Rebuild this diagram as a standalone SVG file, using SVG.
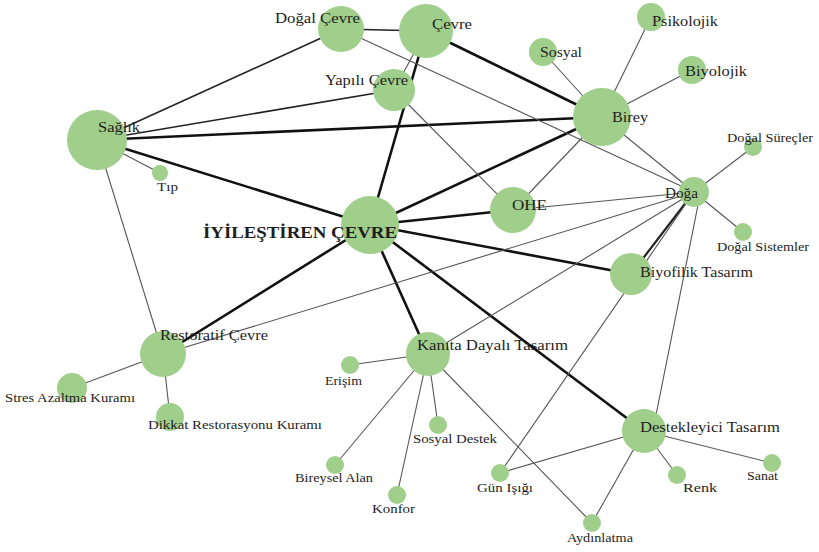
<svg xmlns="http://www.w3.org/2000/svg" width="819" height="552" viewBox="0 0 819 552">
<style>
.bg{fill:#ffffff}
.n{fill:#a0cf8c}
.t{font-family:"Liberation Serif","Times New Roman",serif;fill:#1e1e1e;font-size:14px}
.s{font-size:12px}
.b{font-weight:bold;font-size:17px}
.k{stroke:#111;stroke-width:2.6;fill:none}
.m{stroke:#222;stroke-width:1.6;fill:none}
.l{stroke:#555;stroke-width:1.1;fill:none}
</style>
<rect class="bg" x="0" y="0" width="819" height="552"/>
<g id="edges">
<line class="k" x1="97" y1="140" x2="370" y2="225"/>
<line class="k" x1="97" y1="140" x2="602" y2="117"/>
<line class="k" x1="426" y1="31" x2="370" y2="225"/>
<line class="k" x1="426" y1="31" x2="602" y2="117"/>
<line class="k" x1="602" y1="117" x2="370" y2="225"/>
<line class="k" x1="370" y1="225" x2="513" y2="210"/>
<line class="k" x1="370" y1="225" x2="631" y2="274"/>
<line class="k" x1="370" y1="225" x2="428" y2="354"/>
<line class="k" x1="370" y1="225" x2="644" y2="431"/>
<line class="k" x1="370" y1="225" x2="163" y2="354"/>
<line class="m" x1="631" y1="274" x2="694" y2="192" style="stroke-width:2.2"/>
<line class="m" x1="97" y1="140" x2="341" y2="29"/>
<line class="m" x1="97" y1="140" x2="394" y2="90"/>
<line class="m" x1="341" y1="29" x2="426" y2="31"/>
<line class="l" x1="394" y1="90" x2="426" y2="31"/>
<line class="l" x1="341" y1="29" x2="694" y2="192"/>
<line class="l" x1="394" y1="90" x2="513" y2="210"/>
<line class="l" x1="602" y1="117" x2="513" y2="210"/>
<line class="l" x1="602" y1="117" x2="694" y2="192"/>
<line class="l" x1="602" y1="117" x2="543" y2="52"/>
<line class="l" x1="602" y1="117" x2="651" y2="17"/>
<line class="l" x1="602" y1="117" x2="692" y2="70"/>
<line class="l" x1="513" y1="210" x2="694" y2="192"/>
<line class="l" x1="694" y1="192" x2="753" y2="147"/>
<line class="l" x1="694" y1="192" x2="743" y2="232"/>
<line class="l" x1="694" y1="192" x2="163" y2="354"/>
<line class="l" x1="694" y1="192" x2="428" y2="354"/>
<line class="l" x1="694" y1="192" x2="500" y2="473"/>
<line class="l" x1="700" y1="195" x2="655" y2="420"/>
<line class="l" x1="97" y1="140" x2="163" y2="354"/>
<line class="l" x1="97" y1="140" x2="160" y2="173"/>
<line class="l" x1="163" y1="354" x2="72" y2="388"/>
<line class="l" x1="163" y1="354" x2="170" y2="417"/>
<line class="l" x1="428" y1="354" x2="350" y2="365"/>
<line class="l" x1="428" y1="354" x2="438" y2="425"/>
<line class="l" x1="428" y1="354" x2="335" y2="465"/>
<line class="l" x1="428" y1="354" x2="397" y2="495"/>
<line class="l" x1="428" y1="354" x2="592" y2="523"/>
<line class="l" x1="644" y1="431" x2="500" y2="473"/>
<line class="l" x1="644" y1="431" x2="592" y2="523"/>
<line class="l" x1="644" y1="431" x2="677" y2="475"/>
<line class="l" x1="644" y1="431" x2="772" y2="463"/>
</g>
<g id="dogal-cevre"><circle class="n" cx="341" cy="29" r="23"/><text class="t" x="275" y="23" textLength="85" lengthAdjust="spacingAndGlyphs">Doğal Çevre</text></g>
<g id="cevre"><circle class="n" cx="426" cy="31" r="27"/><text class="t" x="432" y="29" textLength="40" lengthAdjust="spacingAndGlyphs">Çevre</text></g>
<g id="yapili-cevre"><circle class="n" cx="394" cy="90" r="21"/><text class="t" x="325" y="85" textLength="83" lengthAdjust="spacingAndGlyphs">Yapılı Çevre</text></g>
<g id="saglik"><circle class="n" cx="97" cy="140" r="30"/><text class="t" x="98" y="132" textLength="42" lengthAdjust="spacingAndGlyphs">Sağlık</text></g>
<g id="tip"><circle class="n" cx="160" cy="173" r="8"/><text class="t s" x="157" y="191" textLength="21" lengthAdjust="spacingAndGlyphs">Tıp</text></g>
<g id="iyilestiren-cevre"><circle class="n" cx="370" cy="225" r="29"/><text class="t b" x="203" y="238" textLength="194" lengthAdjust="spacingAndGlyphs">İYİLEŞTİREN ÇEVRE</text></g>
<g id="sosyal"><circle class="n" cx="543" cy="52" r="14"/><text class="t" x="540" y="57" textLength="42" lengthAdjust="spacingAndGlyphs">Sosyal</text></g>
<g id="psikolojik"><circle class="n" cx="651" cy="17" r="14"/><text class="t" x="652" y="26" textLength="66" lengthAdjust="spacingAndGlyphs">Psikolojik</text></g>
<g id="biyolojik"><circle class="n" cx="692" cy="70" r="14"/><text class="t" x="685" y="76" textLength="62" lengthAdjust="spacingAndGlyphs">Biyolojik</text></g>
<g id="birey"><circle class="n" cx="602" cy="117" r="29"/><text class="t" x="612" y="122" textLength="36" lengthAdjust="spacingAndGlyphs">Birey</text></g>
<g id="ohe"><circle class="n" cx="513" cy="210" r="23"/><text class="t" x="512" y="210" textLength="35" lengthAdjust="spacingAndGlyphs">OHE</text></g>
<g id="doga"><circle class="n" cx="694" cy="192" r="15"/><text class="t" x="665" y="198" textLength="33" lengthAdjust="spacingAndGlyphs">Doğa</text></g>
<g id="dogal-surecler"><circle class="n" cx="753" cy="147" r="9"/><text class="t s" x="727" y="142" textLength="86" lengthAdjust="spacingAndGlyphs">Doğal Süreçler</text></g>
<g id="dogal-sistemler"><circle class="n" cx="743" cy="232" r="9"/><text class="t s" x="717" y="251" textLength="92" lengthAdjust="spacingAndGlyphs">Doğal Sistemler</text></g>
<g id="biyofilik-tasarim"><circle class="n" cx="631" cy="274" r="21"/><text class="t" x="640" y="277" textLength="113" lengthAdjust="spacingAndGlyphs">Biyofilik Tasarım</text></g>
<g id="restoratif-cevre"><circle class="n" cx="163" cy="354" r="23"/><text class="t" x="160" y="340" textLength="108" lengthAdjust="spacingAndGlyphs">Restoratif Çevre</text></g>
<g id="stres-azaltma-kurami"><circle class="n" cx="72" cy="388" r="15"/><text class="t s" x="5" y="402" textLength="130" lengthAdjust="spacingAndGlyphs">Stres Azaltma  Kuramı</text></g>
<g id="dikkat-restorasyonu-kurami"><circle class="n" cx="170" cy="417" r="14"/><text class="t s" x="148" y="429" textLength="174" lengthAdjust="spacingAndGlyphs">Dikkat  Restorasyonu Kuramı</text></g>
<g id="kanita-dayali-tasarim"><circle class="n" cx="428" cy="354" r="22"/><text class="t" x="417" y="350" textLength="151" lengthAdjust="spacingAndGlyphs">Kanıta  Dayalı  Tasarım</text></g>
<g id="erisim"><circle class="n" cx="350" cy="365" r="9"/><text class="t s" x="325" y="385" textLength="37" lengthAdjust="spacingAndGlyphs">Erişim</text></g>
<g id="sosyal-destek"><circle class="n" cx="438" cy="425" r="9"/><text class="t s" x="413" y="443" textLength="84" lengthAdjust="spacingAndGlyphs">Sosyal Destek</text></g>
<g id="bireysel-alan"><circle class="n" cx="335" cy="465" r="9"/><text class="t s" x="295" y="482" textLength="78" lengthAdjust="spacingAndGlyphs">Bireysel  Alan</text></g>
<g id="konfor"><circle class="n" cx="397" cy="495" r="9"/><text class="t s" x="372" y="513" textLength="43" lengthAdjust="spacingAndGlyphs">Konfor</text></g>
<g id="destekleyici-tasarim"><circle class="n" cx="644" cy="431" r="22"/><text class="t" x="640" y="432" textLength="140" lengthAdjust="spacingAndGlyphs">Destekleyici  Tasarım</text></g>
<g id="gun-isigi"><circle class="n" cx="500" cy="473" r="9"/><text class="t s" x="477" y="492" textLength="56" lengthAdjust="spacingAndGlyphs">Gün Işığı</text></g>
<g id="aydinlatma"><circle class="n" cx="592" cy="523" r="9"/><text class="t s" x="567" y="542" textLength="66" lengthAdjust="spacingAndGlyphs">Aydınlatma</text></g>
<g id="renk"><circle class="n" cx="677" cy="475" r="9"/><text class="t s" x="683" y="492" textLength="34" lengthAdjust="spacingAndGlyphs">Renk</text></g>
<g id="sanat"><circle class="n" cx="772" cy="463" r="9"/><text class="t s" x="747" y="480" textLength="31" lengthAdjust="spacingAndGlyphs">Sanat</text></g>
</svg>
